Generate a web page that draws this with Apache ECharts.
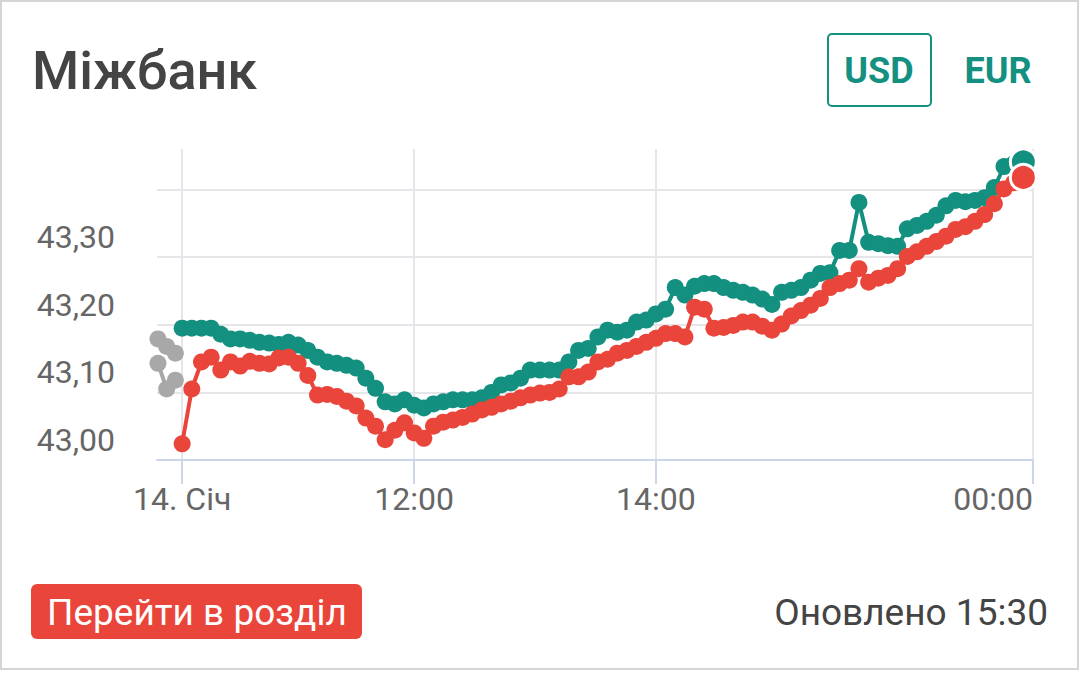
<!DOCTYPE html>
<html>
<head>
<meta charset="utf-8">
<script src="https://cdn.jsdelivr.net/npm/echarts@6/dist/echarts.min.js"></script>
<style>
  html, body { margin: 0; padding: 0; background: #fff; }
  #card { position: absolute; left: 0; top: 0; width: 1079px; height: 670px; box-sizing: border-box; border: 2px solid #d5d5d5; }
  #chart { position: absolute; left: 0; top: 0; width: 1080px; height: 676px; }
</style>
</head>
<body>
<div id="card"></div>
<div id="chart"></div>
<script>
// ---- data (ordinal point positions along the x axis) ----
const xTickPositions = [0, 24, 49, 88];
const xTickLabels = ['14. Січ', '12:00', '14:00', '00:00'];
const yTickValues = [43.0, 43.1, 43.2, 43.3];

// previous day (grey), ordinal positions before the first point
const prevPositions = [-2.5, -1.6, -0.7];
const prevSellRates = [43.179, 43.168, 43.158];
const prevBuyRates = [43.143, 43.105, 43.118];

// USD interbank, teal (sell) and red (buy)
const sellRates = [
  43.195, 43.195, 43.195, 43.195, 43.186, 43.179, 43.179, 43.177, 43.174, 43.173,
  43.171, 43.174, 43.170, 43.162, 43.152, 43.145, 43.143, 43.140, 43.136, 43.121,
  43.106, 43.086, 43.083, 43.089, 43.081, 43.077, 43.083, 43.086, 43.089, 43.089,
  43.089, 43.092, 43.100, 43.111, 43.114, 43.121, 43.133, 43.133, 43.133, 43.133,
  43.145, 43.162, 43.165, 43.182, 43.192, 43.189, 43.192, 43.204, 43.207, 43.216,
  43.223, 43.255, 43.244, 43.257, 43.261, 43.261, 43.255, 43.251, 43.248, 43.244,
  43.238, 43.230, 43.248, 43.251, 43.255, 43.266, 43.276, 43.277, 43.310, 43.310,
  43.381, 43.322, 43.320, 43.317, 43.316, 43.342, 43.347, 43.353, 43.362, 43.376,
  43.384, 43.382, 43.384, 43.388, 43.403, 43.434, 43.438, 43.441
];
const buyRates = [
  43.024, 43.105, 43.145, 43.152, 43.133, 43.145, 43.139, 43.146, 43.143, 43.142,
  43.151, 43.152, 43.143, 43.125, 43.096, 43.097, 43.094, 43.087, 43.080, 43.062,
  43.050, 43.030, 43.044, 43.055, 43.040, 43.032, 43.050, 43.056, 43.059, 43.063,
  43.068, 43.074, 43.078, 43.083, 43.087, 43.092, 43.096, 43.099, 43.100, 43.105,
  43.123, 43.123, 43.130, 43.145, 43.149, 43.158, 43.162, 43.168, 43.174, 43.180,
  43.187, 43.187, 43.182, 43.226, 43.223, 43.195, 43.196, 43.199, 43.204, 43.204,
  43.198, 43.192, 43.201, 43.213, 43.221, 43.229, 43.239, 43.255, 43.261, 43.266,
  43.283, 43.263, 43.269, 43.273, 43.283, 43.301, 43.308, 43.316, 43.323, 43.331,
  43.341, 43.345, 43.353, 43.363, 43.379, 43.401, 43.410, 43.418
];

const TEAL = '#13907f';
const RED = '#e9453a';
const GREY = '#a8a8a8';
const FONT = 'Roboto, "Noto Sans", sans-serif';

function build(values, color) {
  return values.map(function (v, i) {
    if (i === values.length - 1) {
      return { value: [i, v], symbolSize: 26, itemStyle: { color: color, borderColor: '#fff', borderWidth: 3 } };
    }
    return [i, v];
  });
}
function buildPrev(values) {
  return values.map(function (v, i) { return [prevPositions[i], v]; });
}
function lineSeries(name, data, color, z) {
  return {
    name: name, type: 'line', data: data, z: z,
    symbol: 'circle', symbolSize: 17, showSymbol: true,
    lineStyle: { color: color, width: 4 },
    itemStyle: { color: color },
    emphasis: { disabled: true },
    animation: false
  };
}

const chart = echarts.init(document.getElementById('chart'), null, { renderer: 'svg' });
chart.setOption({
  animation: false,
  grid: { left: 157, right: 47, top: 149, bottom: 216, containLabel: false },
  xAxis: {
    type: 'value', min: -2.6, max: 88,
    axisLine: { show: true, lineStyle: { color: '#ccd6eb', width: 2 } },
    axisTick: { show: true, customValues: xTickPositions, length: 24, lineStyle: { color: '#ccd6eb', width: 2 } },
    splitLine: { show: true, lineStyle: { color: '#e6e6ea', width: 2 } },
    axisLabel: {
      customValues: xTickPositions,
      formatter: function (v) { const k = xTickPositions.indexOf(v); return k >= 0 ? xTickLabels[k] : ''; },
      color: '#666', fontSize: 32, fontFamily: FONT, margin: 23,
      alignMaxLabel: 'right'
    }
  },
  yAxis: {
    type: 'value', min: 43.0, max: 43.46, interval: 0.1,
    axisLine: { show: false }, axisTick: { show: false },
    splitLine: { show: true, showMaxLine: false, lineStyle: { color: '#e6e6ea', width: 2 } },
    axisLabel: {
      showMaxLabel: false,
      formatter: function (v) {
        const hit = yTickValues.some(function (t) { return Math.abs(t - v) < 1e-6; });
        return hit ? v.toFixed(2).replace('.', ',') : '';
      },
      color: '#666', fontSize: 32, fontFamily: FONT, margin: 42,
      verticalAlign: 'bottom', padding: [0, 0, 4, 0]
    }
  },
  series: [
    lineSeries('prevSell', buildPrev(prevSellRates), GREY, 2),
    lineSeries('prevBuy', buildPrev(prevBuyRates), GREY, 2),
    lineSeries('sell', build(sellRates, TEAL), TEAL, 3),
    lineSeries('buy', build(buyRates, RED), RED, 4)
  ],
  graphic: [
    { type: 'text', x: 32, y: 70, style: { text: 'Міжбанк', fill: '#444', font: '500 54px ' + FONT, align: 'left', verticalAlign: 'middle' } },
    { type: 'rect', shape: { x: 828, y: 34, width: 103, height: 72, r: 4 }, style: { fill: '#fff', stroke: TEAL, lineWidth: 2 } },
    { type: 'text', x: 879, y: 71, style: { text: 'USD', fill: TEAL, font: 'bold 36px ' + FONT, align: 'center', verticalAlign: 'middle' } },
    { type: 'text', x: 998, y: 71, style: { text: 'EUR', fill: TEAL, font: 'bold 36px ' + FONT, align: 'center', verticalAlign: 'middle' } },
    { type: 'rect', shape: { x: 31, y: 584, width: 331, height: 55, r: 6 }, style: { fill: RED } },
    { type: 'text', x: 47, y: 612, style: { text: 'Перейти в розділ', fill: '#fff', font: '37px ' + FONT, align: 'left', verticalAlign: 'middle' } },
    { type: 'text', x: 1048, y: 612, style: { text: 'Оновлено 15:30', fill: '#444', font: '37px ' + FONT, align: 'right', verticalAlign: 'middle' } }
  ]
});
</script>
</body>
</html>
